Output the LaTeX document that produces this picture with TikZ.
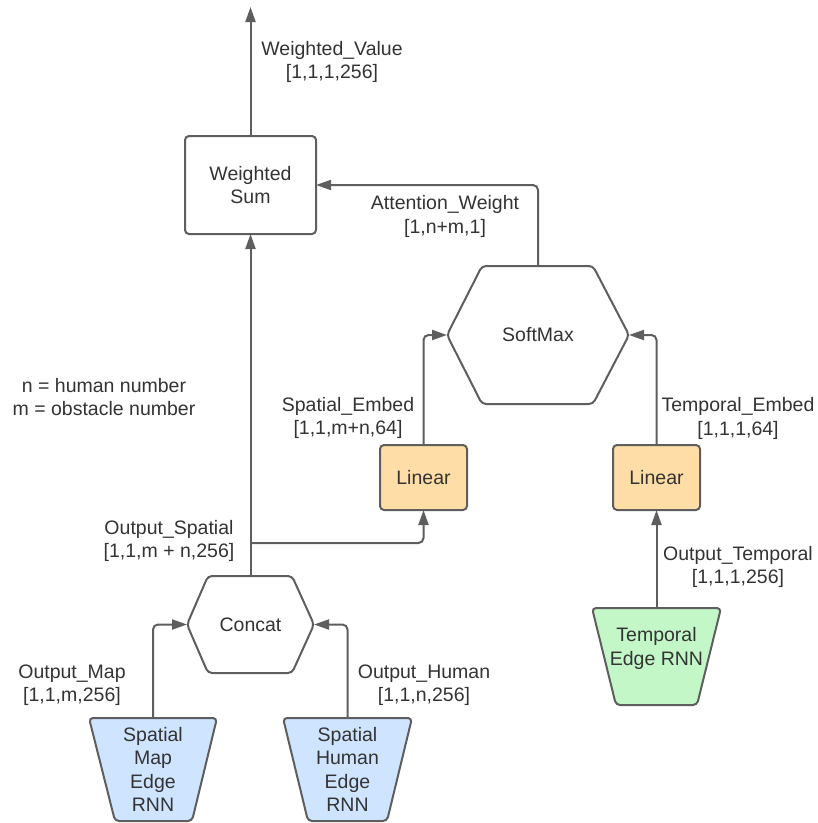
\documentclass[tikz,border=0pt]{standalone}
\usepackage{fontspec}
\setmainfont{Liberation Sans}
\usetikzlibrary{arrows.meta,calc}
\definecolor{ln}{HTML}{5E5E5E}
\definecolor{tx}{HTML}{333333}
\definecolor{bluef}{HTML}{CFE4FF}
\definecolor{orangef}{HTML}{FFDDA6}
\definecolor{greenf}{HTML}{C3F7C8}
\tikzset{
  every node/.style={font=\fontsize{19.5}{23.4}\selectfont, text=tx, inner sep=0pt, outer sep=0pt},
  lbl/.style={align=center},
  frame/.style={draw=none, align=center},
  boxnode/.style={draw=ln, line width=2pt, rounded corners=4pt, align=center},
  shapeline/.style={draw=ln, line width=2pt, rounded corners=4pt, line join=round},
  arr/.style={draw=ln, line width=2pt, rounded corners=5pt, -{Triangle[length=15pt,width=10pt]}},
}
\begin{document}
\begin{tikzpicture}[x=1pt,y=-1pt]
\useasboundingbox (0,0) rectangle (818,823);

% Weighted Sum
\node[boxnode, minimum width=131pt, minimum height=98pt, fill=white] (ws) at (250.5,185) {Weighted\\Sum};
\coordinate (topend) at (250.5,7);

% SoftMax hexagon
\draw[shapeline, fill=white] (447,335) -- (482,266) -- (593,266) -- (629,335) -- (593,404) -- (482,404) -- cycle;
\node[frame, minimum width=182pt, minimum height=138pt] (softmax) at (538,335) {SoftMax};

% Concat hexagon
\draw[shapeline, fill=white] (187,624.5) -- (208,576) -- (292,576) -- (314,624.5) -- (292,673) -- (208,673) -- cycle;
\node[frame, minimum width=127pt, minimum height=97pt] (concat) at (250.5,624.5) {Concat};

% Linear boxes
\node[boxnode, fill=orangef, minimum width=87pt, minimum height=65pt] (lin1) at (423.5,477.5) {Linear};
\node[boxnode, fill=orangef, minimum width=87pt, minimum height=65pt] (lin2) at (656.5,477.5) {Linear};

% Trapezoids
\node[frame, minimum width=128pt, minimum height=103pt] (map) at (153,769.5) {};
\draw[shapeline, fill=bluef] (map.north west) -- (map.north east) -- ($(map.south east)+(-25,0)$) -- ($(map.south west)+(26,0)$) -- cycle;
\node[frame] at (map.center) {Spatial\\Map\\Edge\\RNN};

\node[frame, minimum width=129pt, minimum height=103pt] (human) at (347.5,769.5) {};
\draw[shapeline, fill=bluef] (human.north west) -- (human.north east) -- ($(human.south east)+(-25,0)$) -- ($(human.south west)+(25,0)$) -- cycle;
\node[frame] at (human.center) {Spatial\\Human\\Edge\\RNN};

\node[frame, minimum width=129pt, minimum height=97pt] (temp) at (656.5,656.5) {};
\draw[shapeline, fill=greenf] (temp.north west) -- (temp.north east) -- ($(temp.south east)+(-24,0)$) -- ($(temp.south west)+(24,0)$) -- cycle;
\node[frame] at (656.5,648.5) {Temporal\\Edge RNN};

% Connectors
\draw[arr] (ws.north) -- (topend);
\draw[arr] (softmax.north) |- (ws.east);
\draw[arr] (lin1.north) |- (softmax.west);
\draw[arr] (lin2.north) |- (softmax.east);
\draw[arr] (temp.north) -- (lin2.south);
\draw[arr] (concat.north) -- (ws.south);
\coordinate (br) at (250.5,543);
\draw[arr] (br) -| (lin1.south);
\draw[arr] (map.north) |- (concat.west);
\draw[arr] (human.north) |- (concat.east);

% Labels
\node[lbl] at (332,62) {Weighted\_Value\\{}[1,1,1,256]};
\node[lbl] at (445,216.5) {Attention\_Weight\\{}[1,n+m,1]};
\node[lbl] at (348,418) {Spatial\_Embed\\{}[1,1,m+n,64]};
\node[lbl] at (738,418.5) {Temporal\_Embed\\{}[1,1,1,64]};
\node[lbl] at (738,567) {Output\_Temporal\\{}[1,1,1,256]};
\node[lbl] at (169,541) {Output\_Spatial\\{}[1,1,m + n,256]};
\node[lbl] at (72,685) {Output\_Map\\{}[1,1,m,256]};
\node[lbl] at (424,685) {Output\_Human\\{}[1,1,n,256]};
\node[lbl] at (104,397) {n = human number\\m = obstacle number};
\end{tikzpicture}
\end{document}
